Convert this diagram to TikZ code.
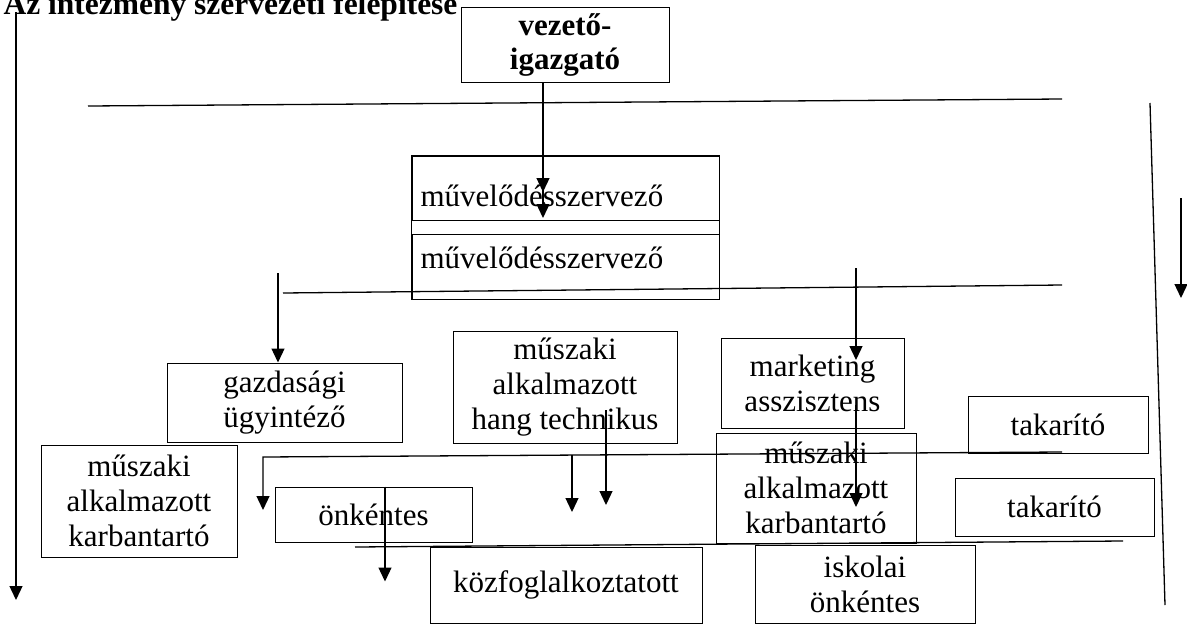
\documentclass[tikz,border=0pt]{standalone}
\usepackage{fontspec}
\setmainfont{Liberation Serif}
\usetikzlibrary{arrows.meta,positioning}

\begin{document}
\begin{tikzpicture}[
  x=1pt, y=-1pt, >={Triangle[width=13pt,length=14pt]},
  box/.style={draw, line width=1pt, align=center, inner sep=0pt, font=\fontsize{31}{35}\selectfont},
  line/.style={line width=1.3pt},
]
\useasboundingbox (0,0) rectangle (1187,625);
\node[anchor=base west, font=\fontsize{31.5}{34}\selectfont\bfseries] (title) at (0,14) {Az intézmény szervezeti felépítése};
\node[box, minimum width=208pt, minimum height=75pt, font=\fontsize{31}{34}\selectfont\bfseries] (vez) at (565,44.5) {vezető-\\igazgató};
\node[box, minimum width=307pt, minimum height=64pt, text width=290pt, align=left, text height=36pt, text depth=0pt] (muv1) at (565.5,188) {művelődésszervező};
\node[box, minimum width=307pt, minimum height=65pt, text width=290pt, align=left, text height=20pt, text depth=16pt] (muv2) at (565.5,266.5) {művelődésszervező};
\draw[line width=1pt] (muv1.north west) rectangle (muv2.south east);
\node[box, minimum width=235pt, minimum height=79pt] (gazd) at (284.5,402.5) {gazdasági\\ügyintéző};
\node[box, minimum width=196pt, minimum height=112pt] (karb1) at (139,501) {műszaki\\alkalmazott\\karbantartó};
\node[box, minimum width=224pt, minimum height=112pt] (hang) at (565,387) {műszaki\\alkalmazott\\hang technikus};
\node[box, minimum width=183pt, minimum height=90pt] (mark) at (812.5,383) {marketing\\asszisztens};
\node[box, minimum width=180pt, minimum height=57pt] (tak1) at (1058,424.5) {takarító};
\node[box, minimum width=200pt, minimum height=110pt] (karb2) at (816,488) {műszaki\\alkalmazott\\karbantartó};
\node[box, minimum width=199pt, minimum height=58pt] (tak2) at (1054.5,507) {takarító};
\node[box, minimum width=197pt, minimum height=55pt] (onk) at (373.5,514.5) {önkéntes};
\node[box, minimum width=272pt, minimum height=76pt] (kozf) at (566,585) {közfoglalkoztatott};
\node[box, minimum width=220pt, minimum height=78pt] (isk) at (865,584) {iskolai\\önkéntes};

\coordinate (sor1w) at (88,106);
\coordinate (sor1e) at (1062,99);
\coordinate (sor2w) at (283,293);
\coordinate (sor2e) at (1062,285);
\coordinate (sor3e) at (1062,452);
\coordinate (sor3w) at (263,457);
\coordinate (sor4w) at (355,547);
\coordinate (sor4e) at (1123,541);
\coordinate (railt) at (1150,103);
\coordinate (railb) at (1165,605);
\coordinate (bal) at (16,12);
\coordinate (jobb) at (1181,198);
\coordinate (vezki) at (543,82);
\coordinate (gazbe) at (278,273);
\coordinate (hangki) at (606,410);
\coordinate (markbe) at (856,268);
\coordinate (markki) at (856,405);

\draw[line] (sor1w) -- (sor1e);
\draw[line] (sor2w) -- (sor2e);
\draw[line, ->] (sor3e) -- (sor3w) -- ++(0,53);
\draw[line] (sor4w) -- (sor4e);
\draw[line] (railt) -- (railb);
\draw[line, ->] (bal) -- ++(0,588);
\draw[line, ->] (jobb) -- ++(0,100);
\draw[line, ->] (vezki) -- ++(0,110);
\draw[line, ->] (vezki) -- ++(0,136);
\draw[line, ->] (gazbe) -- (gazbe |- gazd.north);
\draw[line, ->] (572,455) -- (572,512);
\draw[line, ->] (hangki) -- ++(0,95);
\draw[line, ->] (onk.north -| 385,0) -- ++(0,95);
\draw[line, ->] (markbe) -- ++(0,92);
\draw[line, ->] (markki) -- ++(0,102);
\end{tikzpicture}
\end{document}
